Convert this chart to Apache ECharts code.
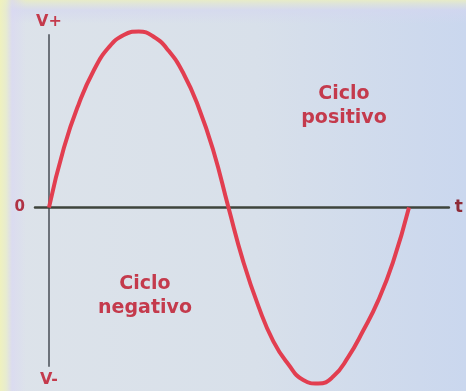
<!DOCTYPE html>
<html lang="es">
<head>
  <meta charset="UTF-8">
  <title>Ciclo positivo / negativo</title>
  <script src="https://cdn.jsdelivr.net/npm/echarts@6/dist/echarts.min.js"></script>
  <style>
    html, body {
      margin: 0;
      padding: 0;
    }
    #main {
      width: 466px;
      height: 391px;
      background:
        linear-gradient(to right, rgba(240,242,188,0.95) 0px, rgba(234,238,200,0.8) 6px, rgba(218,216,242,0.7) 12px, rgba(214,222,238,0) 26px),
        linear-gradient(to bottom, rgba(232,236,198,0.95) 0px, rgba(226,230,212,0.7) 4px, rgba(212,214,240,0.6) 10px, rgba(212,220,240,0) 24px),
        linear-gradient(to right, #dde3ea 0%, #d8e0ea 55%, #cad7ee 100%);
    }
  </style>
</head>
<body>
  <div id="main"></div>

  <script>
    // tiempo (unidades del eje) y tension
    const tiempo = [0, 15, 30, 45, 60, 75, 90, 105, 120, 135, 150, 165, 180,
                    195, 210, 225, 240, 255, 270, 285, 300, 315, 330, 345, 361];
    const tension = [0, 0.34, 0.59, 0.78, 0.91, 0.98, 1.0, 0.97, 0.89, 0.76, 0.57, 0.32, 0,
                     -0.31, -0.56, -0.76, -0.89, -0.98, -1.0, -0.96, -0.85, -0.70, -0.53, -0.31, 0];
    const etiquetasY = [0];

    const rojo = '#c43a4c';
    const chart = echarts.init(document.getElementById('main'));

    const option = {
      animation: false,
      backgroundColor: 'transparent',
      grid: { left: 35, right: 16, top: 35, bottom: 25, containLabel: false },
      xAxis: {
        type: 'value',
        min: -14,
        max: 401,
        name: 't',
        nameGap: 6,
        nameTextStyle: { color: '#8e2a36', fontSize: 17, fontWeight: 'bold', fontFamily: 'DejaVu Sans', verticalAlign: 'middle' },
        axisLine: { onZero: true, lineStyle: { color: '#3e443c', width: 2.5 } },
        axisTick: { show: false },
        axisLabel: { show: false },
        splitLine: { show: false }
      },
      yAxis: {
        type: 'value',
        min: -0.9,
        max: 0.98,
        name: 'V+',
        nameGap: 5,
        nameTextStyle: { color: rojo, fontSize: 16, fontWeight: 'bold', fontFamily: 'DejaVu Sans' },
        axisLine: { onZero: true, lineStyle: { color: '#6c727a', width: 2 } },
        axisTick: { show: false },
        axisLabel: {
          customValues: etiquetasY,
          margin: 10,
          color: '#b03244',
          fontSize: 15,
          fontWeight: 'bold',
          fontFamily: 'DejaVu Sans'
        },
        splitLine: { show: false }
      },
      series: [{
        type: 'line',
        data: tiempo.map((t, i) => [t, tension[i]]),
        smooth: true,
        clip: false,
        symbol: 'none',
        lineStyle: { color: '#e23e50', width: 4 }
      }],
      graphic: [
        {
          type: 'text', x: 49, y: 380,
          style: { text: 'V-', fill: rojo, font: 'bold 16px "DejaVu Sans"', textAlign: 'center', textVerticalAlign: 'middle' }
        },
        {
          type: 'text', x: 344, y: 106,
          style: { text: 'Ciclo\npositivo', fill: rojo, font: 'bold 19px "DejaVu Sans"', lineHeight: 24, textAlign: 'center', textVerticalAlign: 'middle' }
        },
        {
          type: 'text', x: 145, y: 296,
          style: { text: 'Ciclo\nnegativo', fill: rojo, font: 'bold 19px "DejaVu Sans"', lineHeight: 24, textAlign: 'center', textVerticalAlign: 'middle' }
        }
      ]
    };

    chart.setOption(option);
  </script>
</body>
</html>
